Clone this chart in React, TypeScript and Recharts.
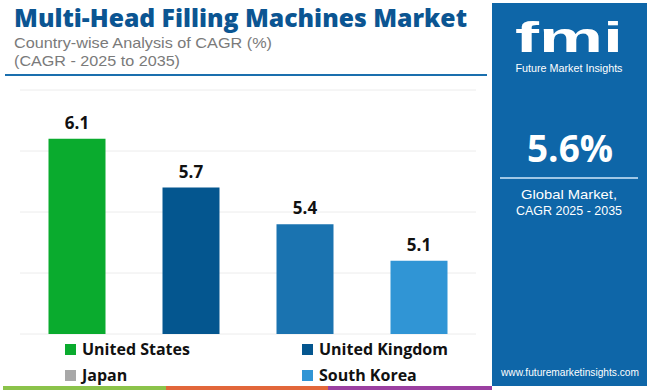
import React from "react";
import { BarChart, Bar, XAxis, YAxis, CartesianGrid, LabelList, Cell, Legend } from "recharts";

const countries = ["United States", "United Kingdom", "Japan", "South Korea"];
const cagr = [6.1, 5.7, 5.4, 5.1];
const barColors = ["#0aab2e", "#04568f", "#1a73b0", "#3095d5"];
const legendColors = ["#0aab2e", "#04568f", "#a8a8a8", "#3095d5"];
const yTicks = [4.5, 5, 5.5, 6, 6.5];

const data = countries.map((c, i) => ({ name: c, value: cagr[i] }));

const FONT = "'Open Sans', 'Noto Sans', sans-serif";
const LIB = "'Liberation Sans', Arial, sans-serif";

const LegendContent = () => {
  const pos = [
    { x: 65, y: 6 },
    { x: 302, y: 6 },
    { x: 65, y: 32 },
    { x: 302, y: 32 },
  ];
  return (
    <div style={{ position: "relative", width: 492, height: 50 }}>
      {countries.map((c, i) => (
        <div
          key={c}
          style={{
            position: "absolute",
            left: pos[i].x,
            top: pos[i].y,
            display: "flex",
            alignItems: "center",
            height: 14,
          }}
        >
          <div style={{ width: 11, height: 11, background: legendColors[i], marginRight: 6 }} />
          <span
            style={{
              fontFamily: FONT,
              fontWeight: 700,
              fontSize: 16,
              color: "#111",
              whiteSpace: "nowrap",
              lineHeight: "14px",
            }}
          >
            {c}
          </span>
        </div>
      ))}
    </div>
  );
};

export default function App() {
  return (
    <div style={{ position: "absolute", left: 0, top: 0, width: 650, height: 390, background: "#fff", overflow: "hidden" }}>
      <svg width={650} height={390} style={{ position: "absolute", left: 0, top: 0 }}>
        <text x={14} y={27} fontFamily={FONT} fontWeight={800} fontSize={24} fill="#0b5592" textLength={453} lengthAdjust="spacingAndGlyphs">
          Multi-Head Filling Machines Market
        </text>
        <text x={14} y={48} fontFamily={LIB} fontSize={15} fill="#7a7a7a" textLength={258} lengthAdjust="spacingAndGlyphs">
          Country-wise Analysis of CAGR (%)
        </text>
        <text x={14} y={66} fontFamily={LIB} fontSize={15} fill="#7a7a7a" textLength={166} lengthAdjust="spacingAndGlyphs">
          (CAGR - 2025 to 2035)
        </text>
        <rect x={5} y={74} width={482} height={2} fill="#1a6fae" />
        <rect x={492} y={3} width={155} height={383} fill="#0e66a8" />
        <text x={569} y={52} textAnchor="middle" fontFamily={LIB} fontWeight={700} fontSize={42} fill="#fff" textLength={108} lengthAdjust="spacingAndGlyphs">
          fmi
        </text>
        <text x={569} y={72} textAnchor="middle" fontFamily={LIB} fontSize={11} fill="#fff" textLength={107} lengthAdjust="spacingAndGlyphs">
          Future Market Insights
        </text>
        <text x={570} y={162} textAnchor="middle" fontFamily={FONT} fontWeight={700} fontSize={37} fill="#fff" textLength={86} lengthAdjust="spacingAndGlyphs">
          5.6%
        </text>
        <rect x={500} y={177} width={138} height={2} fill="#9fc7e6" />
        <text x={569} y={199} textAnchor="middle" fontFamily={LIB} fontSize={13.5} fill="#fff" textLength={96} lengthAdjust="spacingAndGlyphs">
          Global Market,
        </text>
        <text x={569} y={215} textAnchor="middle" fontFamily={LIB} fontSize={13.5} fill="#fff" textLength={106} lengthAdjust="spacingAndGlyphs">
          CAGR 2025 - 2035
        </text>
        <text x={570} y={376} textAnchor="middle" fontFamily={LIB} fontSize={10.5} fill="#fff" textLength={138} lengthAdjust="spacingAndGlyphs">
          www.futuremarketinsights.com
        </text>
        <rect x={3} y={386} width={163} height={4} fill="#8bc34a" />
        <rect x={166} y={386} width={162} height={4} fill="#e2673a" />
        <rect x={328} y={386} width={164} height={4} fill="#9b3fa1" />
      </svg>
      <div style={{ position: "absolute", left: 0, top: 0 }}>
        <BarChart width={650} height={390} data={data} margin={{ top: 90, right: 174, bottom: 6, left: 20 }} barCategoryGap="25%">
          <CartesianGrid horizontal vertical={false} stroke="#ececec" />
          <XAxis dataKey="name" hide />
          <YAxis hide domain={[4.5, 6.5]} ticks={yTicks} allowDataOverflow />
          <Legend
            verticalAlign="bottom"
            content={() => <LegendContent />}
            wrapperStyle={{ left: 0, top: 336, bottom: "auto", width: 492, height: 50 }}
          />
          <Bar dataKey="value" isAnimationActive={false}>
            {data.map((d, i) => (
              <Cell key={d.name} fill={barColors[i]} />
            ))}
            <LabelList
              dataKey="value"
              position="top"
              offset={10}
              style={{ fontFamily: FONT, fontWeight: 700, fontSize: 17, fill: "#111" }}
            />
          </Bar>
        </BarChart>
      </div>
    </div>
  );
}
